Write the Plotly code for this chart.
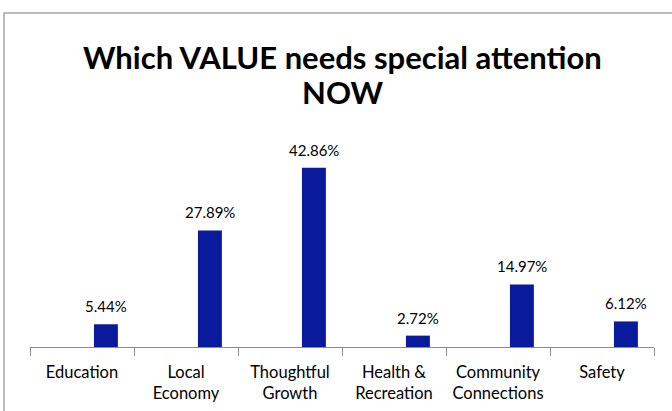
import plotly.graph_objects as go

categories = ["Education", "Local<br>Economy", "Thoughtful<br>Growth", "Health &<br>Recreation",
              "Community<br>Connections", "Safety"]
values = [5.44, 27.89, 42.86, 2.72, 14.97, 6.12]
labels = ["5.44%", "27.89%", "42.86%", "2.72%", "14.97%", "6.12%"]

FONT = "Lato, Carlito, sans-serif"
BAR_W = 0.23
BAR_OFF = 0.115

fig = go.Figure(go.Bar(
    x=categories, y=values,
    marker=dict(color="#0A1A9C", line=dict(width=0)),
    width=BAR_W, offset=BAR_OFF, cliponaxis=False,
))

annotations = []
for c, v, t in zip(categories, values, labels):
    annotations.append(dict(x=c, y=v, xref="x", yref="y", text=t, showarrow=False,
                            xshift=24, yshift=18, yanchor="middle", xanchor="center",
                            font=dict(family=FONT, size=15, color="black")))
annotations.append(dict(x=0.5, y=(347 - 57) / 209, xref="paper", yref="paper",
                        text="<b>Which VALUE needs special attention</b>", showarrow=False,
                        xanchor="center", yanchor="middle",
                        font=dict(family=FONT, size=31, color="black")))
annotations.append(dict(x=0.5, y=(347 - 92) / 209, xref="paper", yref="paper",
                        text="<b>NOW</b>", showarrow=False,
                        xanchor="center", yanchor="middle",
                        font=dict(family=FONT, size=31, color="black")))

fig.update_layout(
    width=672, height=411,
    margin=dict(l=30, r=18, t=138, b=64, autoexpand=False),
    paper_bgcolor="white", plot_bgcolor="white",
    showlegend=False,
    annotations=annotations,
    xaxis=dict(showline=True, linecolor="#8c8c8c", linewidth=1,
               ticks="outside", tickson="boundaries", ticklen=8, tickcolor="#8c8c8c",
               tickfont=dict(family=FONT, size=16.5, color="black"),
               ticklabelstandoff=10, automargin=False,
               showgrid=False),
    yaxis=dict(range=[0, 50], visible=False, showgrid=False),
    shapes=[dict(type="rect", xref="paper", yref="paper",
                 x0=-0.0417, x1=1.2, y0=-0.5, y1=1.598,
                 line=dict(color="#a6a6a6", width=1.5), layer="below")],
)

fig.write_html("out.html", config={"displayModeBar": False},
               post_script="document.body.style.margin='0';")
